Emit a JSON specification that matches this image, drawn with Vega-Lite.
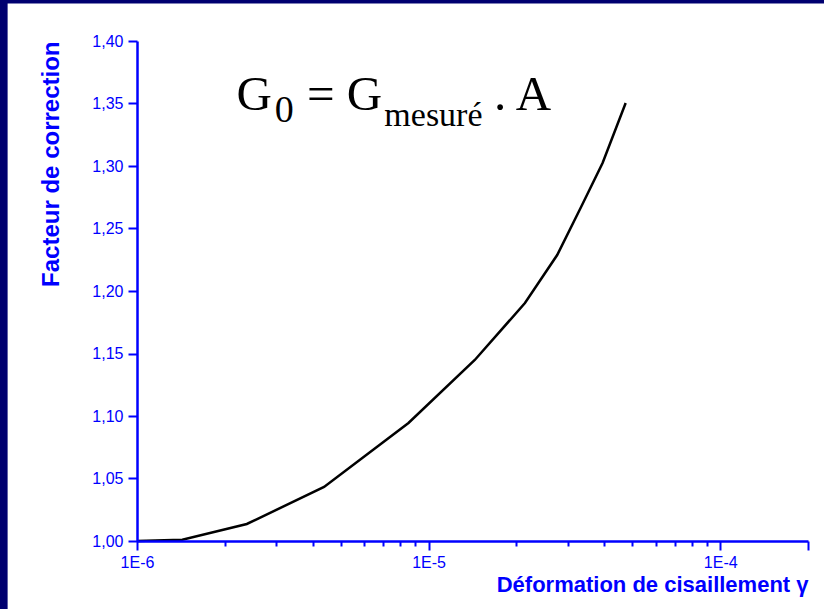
{
  "$schema": "https://vega.github.io/schema/vega-lite/v6.json",
  "width": 671,
  "height": 500,
  "autosize": {"type": "none"},
  "padding": {"left": 137, "top": 41, "right": 16, "bottom": 68},
  "background": "#000070",
  "config": {"view": {"stroke": null}},
  "datasets": {
    "curve": [
      {"gamma": 1e-6, "A": 1.000},
      {"gamma": 1.43e-6, "A": 1.001},
      {"gamma": 2.38e-6, "A": 1.0136},
      {"gamma": 4.38e-6, "A": 1.0432},
      {"gamma": 8.53e-6, "A": 1.0944},
      {"gamma": 1.44e-5, "A": 1.1448},
      {"gamma": 2.14e-5, "A": 1.1904},
      {"gamma": 2.76e-5, "A": 1.2288},
      {"gamma": 3.32e-5, "A": 1.2664},
      {"gamma": 3.95e-5, "A": 1.3024},
      {"gamma": 4.74e-5, "A": 1.3504}
    ],
    "eqMain": [
      {"t": "G", "x": 2.194e-6, "y": 1.3448},
      {"t": "= G", "x": 3.825e-6, "y": 1.3448},
      {"t": ". A", "x": 1.675e-5, "y": 1.3448}
    ],
    "eqSub0": [
      {"t": "0", "x": 2.97e-6, "y": 1.3352}
    ],
    "eqSubM": [
      {"t": "mesuré", "x": 7.05e-6, "y": 1.332}
    ]
  },
  "layer": [
    {
      "data": {"values": [{}]},
      "mark": {"type": "rect", "color": "white"},
      "encoding": {
        "x": {"datum": 3.6e-7, "type": "quantitative", "title": "Déformation de cisaillement γ"},
        "x2": {"datum": 5e-4},
        "y": {"datum": 1.43, "type": "quantitative", "title": "Facteur de correction"},
        "y2": {"datum": 0.93}
      }
    },
    {
      "data": {"name": "curve"},
      "mark": {"type": "line", "color": "black", "strokeWidth": 2.5},
      "encoding": {
        "x": {
          "field": "gamma", "type": "quantitative",
          "title": "Déformation de cisaillement γ",
          "scale": {"type": "log", "domain": [1e-6, 2e-4], "nice": false},
          "axis": {
            "zindex": 1,
            "values": [1e-6, 2e-6, 3e-6, 4e-6, 5e-6, 6e-6, 7e-6, 8e-6, 9e-6, 1e-5, 2e-5, 3e-5, 4e-5, 5e-5, 6e-5, 7e-5, 8e-5, 9e-5, 1e-4, 2e-4],
            "labelExpr": "datum.value == 1e-6 ? '1E-6' : datum.value == 1e-5 ? '1E-5' : datum.value == 1e-4 ? '1E-4' : ''",
            "tickSize": {"condition": {"test": "datum.value == 1e-6 || datum.value == 1e-5 || datum.value == 1e-4 || datum.value == 2e-4", "value": 9}, "value": 5},
            "tickWidth": 2,
            "tickColor": "#0000FF",
            "domainColor": "#0000FF",
            "domainWidth": 2.5,
            "grid": false,
            "labelFlush": false,
            "labelOverlap": false,
            "labelFont": "Liberation Sans",
            "labelFontSize": 16,
            "labelColor": "#0000FF",
            "labelPadding": 4,
            "titleFont": "Liberation Sans",
            "titleFontSize": 22,
            "titleFontWeight": "bold",
            "titleColor": "#0000FF",
            "titleAnchor": "end",
            "titlePadding": 4
          }
        },
        "y": {
          "field": "A", "type": "quantitative",
          "title": "Facteur de correction",
          "scale": {"domain": [1.0, 1.4], "nice": false, "zero": false},
          "axis": {
            "zindex": 1,
            "values": [1.0, 1.025, 1.05, 1.075, 1.1, 1.125, 1.15, 1.175, 1.2, 1.225, 1.25, 1.275, 1.3, 1.325, 1.35, 1.375, 1.4],
            "labelExpr": "round(datum.value * 1000) % 50 == 0 ? replace(format(datum.value, '.2f'), '.', ',') : ''",
            "tickSize": {"condition": {"test": "round(datum.value * 1000) % 50 == 0", "value": 9}, "value": 5},
            "tickWidth": 2,
            "tickColor": "#0000FF",
            "domainColor": "#0000FF",
            "domainWidth": 2.5,
            "grid": false,
            "labelOverlap": false,
            "labelFont": "Liberation Sans",
            "labelFontSize": 16,
            "labelColor": "#0000FF",
            "labelPadding": 5,
            "titleFont": "Liberation Sans",
            "titleFontSize": 24,
            "titleFontWeight": "bold",
            "titleColor": "#0000FF",
            "titleAnchor": "end",
            "titlePadding": 28
          }
        }
      }
    },
    {
      "data": {"name": "eqMain"},
      "mark": {"type": "text", "font": "Liberation Serif", "fontSize": 49, "align": "left", "baseline": "alphabetic", "color": "black"},
      "encoding": {
        "x": {"field": "x", "type": "quantitative", "title": "Déformation de cisaillement γ"},
        "y": {"field": "y", "type": "quantitative", "title": "Facteur de correction"},
        "text": {"field": "t"}
      }
    },
    {
      "data": {"name": "eqSub0"},
      "mark": {"type": "text", "font": "Liberation Serif", "fontSize": 38, "align": "left", "baseline": "alphabetic", "color": "black"},
      "encoding": {
        "x": {"field": "x", "type": "quantitative", "title": "Déformation de cisaillement γ"},
        "y": {"field": "y", "type": "quantitative", "title": "Facteur de correction"},
        "text": {"field": "t"}
      }
    },
    {
      "data": {"name": "eqSubM"},
      "mark": {"type": "text", "font": "Liberation Serif", "fontSize": 34, "align": "left", "baseline": "alphabetic", "color": "black"},
      "encoding": {
        "x": {"field": "x", "type": "quantitative", "title": "Déformation de cisaillement γ"},
        "y": {"field": "y", "type": "quantitative", "title": "Facteur de correction"},
        "text": {"field": "t"}
      }
    }
  ]
}
